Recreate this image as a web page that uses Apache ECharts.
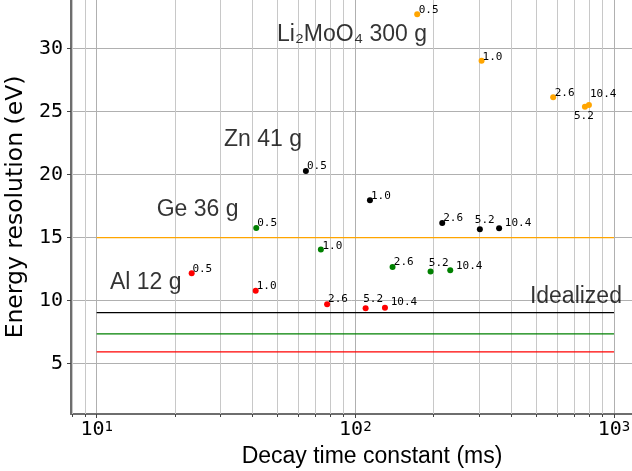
<!DOCTYPE html>
<html><head><meta charset="utf-8">
<script src="https://cdn.jsdelivr.net/npm/echarts@6/dist/echarts.min.js"></script>
<style>html,body{margin:0;padding:0;background:#fff}#c{width:632px;height:471px}</style>
</head><body><div id="c"></div>
<script>
// ---- data ----
const powerLabels = ['0.5', '1.0', '2.6', '5.2', '10.4'];
const liTau = [173.5, 307.7, 582, 772, 800];
const liRes = [32.72, 29.02, 26.13, 25.37, 25.52];
const znTau = [64.4, 113.9, 216.8, 303, 359.7];
const znRes = [20.29, 17.96, 16.16, 15.66, 15.74];
const geTau = [41.4, 73.6, 139.3, 195.4, 232.8];
const geRes = [15.76, 14.05, 12.67, 12.30, 12.40];
const alTau = [23.3, 41.2, 77.8, 109.6, 130.2];
const alRes = [12.17, 10.77, 9.71, 9.39, 9.44];
const idealLevels = [15.0, 9.05, 7.36, 5.93]; // Li2MoO4, Zn, Ge, Al
const idealRange = [10, 1000];
const minorTicks = [8, 9, 20, 30, 40, 50, 60, 70, 80, 90, 200, 300, 400, 500, 600, 700, 800, 900];
const annotations = ['Li₂MoO₄ 300 g', 'Zn 41 g', 'Ge 36 g', 'Al 12 g', 'Idealized'];
const annoTau = [49.8, 31.06, 17.06, 11.26, 473];
const annoRes = [31.12, 22.8, 17.2, 11.45, 10.33];

// ---- label placement (pixel offsets of the label's left/middle from the point) ----
const liOff = [[1.5, -4], [1, -4], [1.5, -4.5], [-11, 9], [1, -10.4]];
const znOff = [[1, -4.5], [1, -4.3], [1, -4.4], [-5, -9], [5.7, -4.7]];
const geOff = [[1, -5], [1.5, -3.5], [1.3, -4.6], [-1.7, -8.7], [5.7, -4]];
const alOff = [[0.7, -4.4], [1, -4.6], [1, -4.7], [-2.4, -8.7], [5.7, -5.3]];

const colors = ['#ffa500', '#000000', '#008000', '#ff0000'];
const SYM = 6;

function pts(tau, res, off) {
  return tau.map((t, i) => ({
    value: [t, res[i]],
    name: powerLabels[i],
    label: { position: [off[i][0] + SYM / 2, off[i][1] + SYM / 2] }
  }));
}
function scatter(tau, res, off, color) {
  return {
    type: 'scatter', symbolSize: SYM, z: 4, silent: true,
    itemStyle: { color: color, opacity: 1 },
    data: pts(tau, res, off),
    label: {
      show: true, formatter: p => p.name, align: 'left', verticalAlign: 'middle',
      fontFamily: 'DejaVu Sans Mono', fontSize: 11, color: '#000'
    }
  };
}
function hline(level, color) {
  return {
    type: 'line', symbol: 'none', silent: true, z: 3,
    lineStyle: { color: color, width: 1.2 },
    data: [[idealRange[0], level], [idealRange[1], level]]
  };
}

const chart = echarts.init(document.getElementById('c'), null, { renderer: 'canvas' });
const axisGray = '#6e6e6e';
const option = {
  animation: false,
  backgroundColor: '#fff',
  grid: { left: 71, right: 0, top: 0, bottom: 57, containLabel: false, outerBoundsMode: 'none' },
  xAxis: {
    type: 'log', logBase: 10, min: 7.958, max: 1174,
    name: 'Decay time constant (ms)', nameLocation: 'middle', nameGap: 28,
    nameTextStyle: { fontFamily: 'Liberation Sans', fontSize: 23, color: '#000', padding: [0, 0, 0, 41] },
    axisLine: { show: true, onZero: false, lineStyle: { color: axisGray, width: 2 } },
    axisTick: { show: true, length: 4, lineStyle: { color: '#444' } },
    axisLabel: {
      show: true, margin: 6, showMinLabel: false, showMaxLabel: false,
      formatter: v => '{b|10}{s|' + Math.round(Math.log10(v)) + '}',
      rich: {
        b: { fontFamily: 'DejaVu Sans Mono', fontSize: 20, lineHeight: 22, verticalAlign: 'top', color: '#000' },
        s: { fontFamily: 'DejaVu Sans Mono', fontSize: 14, lineHeight: 12, verticalAlign: 'top', color: '#000' }
      }
    },
    splitLine: { show: true, showMinLine: false, showMaxLine: false, lineStyle: { color: '#b0b0b0', width: 1 } }
  },
  yAxis: {
    type: 'value', min: 1, max: 33.85,
    name: 'Energy resolution (eV)', nameLocation: 'middle', nameGap: 35,
    nameTextStyle: { fontFamily: 'DejaVu Sans', fontSize: 23.5, color: '#000' },
    axisLine: { show: true, lineStyle: { color: axisGray, width: 2 } },
    axisTick: { show: true, length: 4, lineStyle: { color: '#444' } },
    axisLabel: {
      show: true, margin: 8, showMinLabel: false, showMaxLabel: false,
      fontFamily: 'DejaVu Sans Mono', fontSize: 20, color: '#000'
    },
    splitLine: { show: true, showMinLine: false, showMaxLine: false, lineStyle: { color: '#b0b0b0', width: 1 } }
  },
  series: [
    {
      type: 'custom', z: 1, silent: true, clip: false,
      data: minorTicks.map(v => [v, 10]),
      encode: { x: 0, y: 1 },
      renderItem: (params, api) => {
        const cs = params.coordSys;
        const x = Math.round(api.coord([api.value(0), api.value(1)])[0]) + 0.5;
        const yb = cs.y + cs.height;
        return {
          type: 'group', children: [
            { type: 'line', shape: { x1: x, y1: cs.y, x2: x, y2: yb }, style: { stroke: '#c8c8c8', lineWidth: 1 } },
            { type: 'line', shape: { x1: x, y1: yb, x2: x, y2: yb + 3 }, style: { stroke: '#444', lineWidth: 1 } }
          ]
        };
      }
    },
    hline(idealLevels[0], colors[0]),
    hline(idealLevels[1], colors[1]),
    hline(idealLevels[2], colors[2]),
    hline(idealLevels[3], colors[3]),
    scatter(liTau, liRes, liOff, colors[0]),
    scatter(znTau, znRes, znOff, colors[1]),
    scatter(geTau, geRes, geOff, colors[2]),
    scatter(alTau, alRes, alOff, colors[3]),
    {
      type: 'scatter', symbolSize: 1, z: 5, silent: true,
      itemStyle: { color: 'rgba(0,0,0,0)' },
      data: annoTau.map((t, i) => ({ value: [t, annoRes[i]], name: annotations[i] })),
      label: {
        show: true, position: [0.5, 0.5], align: 'left', verticalAlign: 'middle',
        fontFamily: 'Liberation Sans', fontSize: 23, color: '#000',
        formatter: p => p.name
      }
    }
  ]
};
chart.setOption(option);
</script>
</body></html>
